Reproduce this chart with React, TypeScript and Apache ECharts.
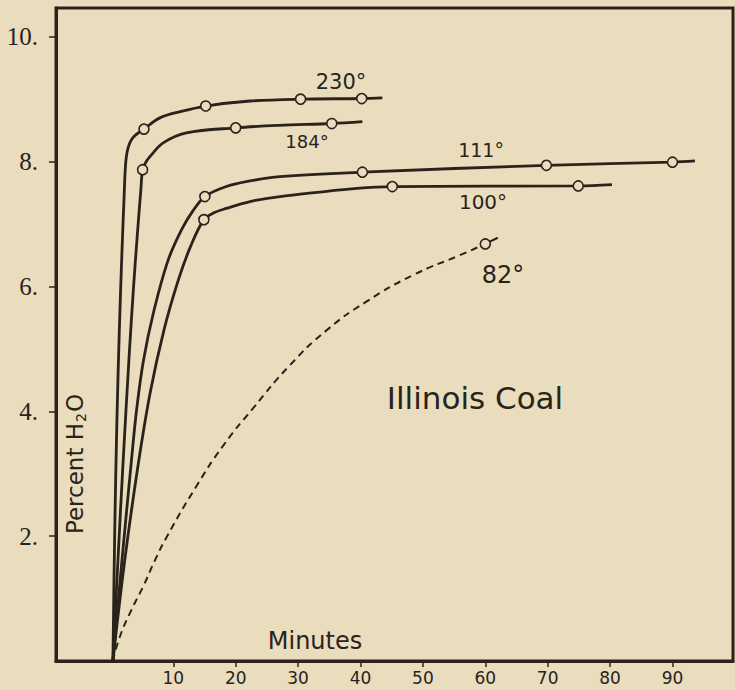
import React, { useEffect, useRef } from "react";
import * as echarts from "echarts";

// Curve paths: [minutes, percent H2O]
const curve230: number[][] = [[0.32,0],[0.6,2.0],[0.95,3.8],[1.35,5.3],[1.75,6.5],[2.1,7.4],[2.35,7.95],[2.7,8.2],[3.5,8.38],[5.3,8.52],[7.85,8.7],[11.1,8.8],[15.2,8.89],[22.3,8.97],[30.4,9.0],[40.2,9.01],[43.5,9.02]];
const curve184: number[][] = [[0.32,0],[1.12,1.6],[1.97,3.22],[2.93,4.9],[3.6,5.95],[4.25,6.85],[4.8,7.55],[5.08,7.87],[5.6,7.99],[6.25,8.08],[8.38,8.3],[12.1,8.46],[20,8.54],[27,8.58],[35.4,8.61],[40.3,8.64]];
const curve111: number[][] = [[0.32,0],[1.76,1.6],[3.29,3.21],[4.09,4.0],[5.21,4.81],[6.89,5.61],[9.13,6.41],[11.33,6.91],[13.14,7.21],[15.06,7.44],[18.5,7.6],[22.3,7.69],[27.1,7.76],[40.3,7.83],[69.8,7.94],[90,7.99],[93.6,8.01]];
const curve100: number[][] = [[0.32,0],[2.2,1.6],[4.3,3.1],[6.3,4.3],[8.5,5.3],[10.8,6.1],[12.8,6.65],[14.9,7.07],[16.5,7.18],[18.5,7.25],[22.3,7.36],[27.1,7.44],[45.1,7.6],[74.9,7.61],[80.3,7.63]];
const curve82: number[][] = [[0.32,0],[1.4,0.38],[3.2,0.8],[5.2,1.2],[7,1.6],[8.9,1.98],[13.7,2.8],[18,3.45],[22.8,4.05],[28.7,4.74],[34.6,5.3],[41,5.76],[48.4,6.18],[55.9,6.5],[60,6.68]];
const tail82: number[][] = [[60,6.68],[62,6.78]];

// Observed points (circles)
const pts230: number[][] = [[5.3,8.52],[15.2,8.89],[30.4,9.0],[40.2,9.01]];
const pts184: number[][] = [[5.08,7.87],[20,8.54],[35.4,8.61]];
const pts111: number[][] = [[15.06,7.44],[40.3,7.83],[69.8,7.94],[90,7.99]];
const pts100: number[][] = [[14.9,7.07],[45.1,7.6],[74.9,7.61]];
const pts82: number[][] = [[60,6.68]];

const xTicks = [10, 20, 30, 40, 50, 60, 70, 80, 90];
const yTicks = [2, 4, 6, 8, 10];

const ink = "#2a231b";
const paper = "#e9ddbd";

export default function App() {
  const ref = useRef<HTMLDivElement>(null);
  useEffect(() => {
    document.body.style.margin = "0";
    document.body.style.background = paper;
    const chart = echarts.init(ref.current!, null, { renderer: "svg" });
    const solid = (data: number[][]) => ({
      type: "line",
      data,
      symbol: "none",
      smooth: 0.35,
      lineStyle: { color: ink, width: 2.8 },
      z: 3,
    });
    const dots = (data: number[][]) => ({
      type: "scatter",
      data,
      symbol: "circle",
      symbolSize: 10,
      itemStyle: { color: paper, borderColor: ink, borderWidth: 1.6, opacity: 1 },
      z: 5,
    });
    const font = "DejaVu Sans";
    const label = (text: string, x: number, y: number, size: number) => ({
      type: "text",
      x,
      y,
      style: { text, fontSize: size, fontFamily: font, fill: ink, align: "center", verticalAlign: "middle" },
      z: 10,
    });
    chart.setOption({
      animation: false,
      backgroundColor: paper,
      grid: { left: 56, right: 2, top: 8, bottom: 29, show: true, borderColor: ink, borderWidth: 3, backgroundColor: "transparent" },
      xAxis: {
        type: "value",
        min: -8.8,
        max: 99.7,
        axisLine: { show: true, onZero: false, lineStyle: { color: ink, width: 3 } },
        axisTick: { show: true, customValues: xTicks, length: 6, lineStyle: { color: ink, width: 1.5 } },
        axisLabel: { customValues: xTicks, color: ink, fontSize: 17, fontFamily: font, margin: 8 },
        splitLine: { show: false },
      },
      yAxis: {
        type: "value",
        min: 0,
        max: 10.46,
        axisLine: { show: true, onZero: false, lineStyle: { color: ink, width: 3 } },
        axisTick: { show: true, customValues: yTicks, length: 7, lineStyle: { color: ink, width: 1.5 } },
        axisLabel: {
          customValues: yTicks,
          formatter: (v: number) => v + ".",
          color: ink,
          fontSize: 25,
          fontFamily: "Liberation Serif",
          margin: 18,
          padding: [8, 0, 0, 0],
        },
        splitLine: { show: false },
      },
      series: [
        solid(curve230),
        solid(curve184),
        solid(curve111),
        solid(curve100),
        {
          type: "line",
          data: curve82,
          symbol: "none",
          smooth: 0.5,
          lineStyle: { color: ink, width: 2, type: [7, 5] },
          z: 3,
        },
        { type: "line", data: tail82, symbol: "none", lineStyle: { color: ink, width: 2 }, z: 3 },
        dots(pts230),
        dots(pts184),
        dots(pts111),
        dots(pts100),
        dots(pts82),
      ],
      graphic: [
        label("230°", 341, 82, 21),
        label("184°", 307, 141, 18),
        label("111°", 481, 150, 19),
        label("100°", 483, 202, 20),
        label("82°", 503, 275, 24),
        label("Illinois Coal", 475, 398, 31),
        label("Minutes", 315, 641, 24),
        {
          type: "text",
          x: 75,
          y: 464,
          rotation: Math.PI / 2,
          style: {
            text: "{n|Percent H}{s|2}{n|O}",
            align: "center",
            verticalAlign: "middle",
            fill: ink,
            rich: {
              n: { fontSize: 23, fontFamily: font, fill: ink },
              s: { fontSize: 14, fontFamily: font, fill: ink, padding: [12, 1, 0, 1] },
            },
          },
          z: 10,
        },
      ],
    });
    return () => chart.dispose();
  }, []);
  return <div ref={ref} style={{ width: 735, height: 690 }} />;
}
